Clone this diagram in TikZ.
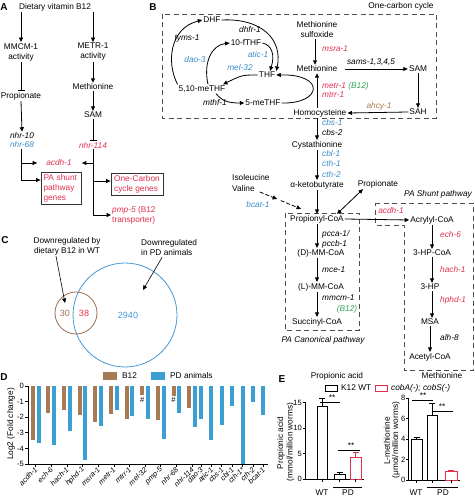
\documentclass[tikz,border=0pt]{standalone}
\usepackage{fontspec}
\setmainfont{Liberation Sans}
\usetikzlibrary{arrows.meta,calc}
\definecolor{gred}{RGB}{224,48,78}
\definecolor{gblue}{RGB}{58,140,200}
\definecolor{ggreen}{RGB}{50,165,85}
\definecolor{gbrown}{RGB}{170,120,72}
\definecolor{cB}{RGB}{166,122,84}
\definecolor{cP}{RGB}{58,160,212}
\definecolor{vbrown}{RGB}{160,110,80}
\definecolor{vblue}{RGB}{70,150,210}
\begin{document}
\begin{tikzpicture}[x=1pt,y=-1pt,
  t/.style={font=\fontsize{8.3}{10}\selectfont, inner sep=1pt, align=center},
  g/.style={font=\fontsize{8.3}{10}\selectfont\itshape, inner sep=1pt, align=center},
  sm/.style={font=\fontsize{7.6}{9}\selectfont, inner sep=1pt},
  gl/.style={font=\fontsize{7.3}{9}\selectfont\itshape, inner sep=0.5pt, rotate=45, anchor=east},
  panel/.style={font=\fontsize{10}{12}\selectfont\bfseries, inner sep=0pt},
  arr/.style={-{Triangle[length=4.5pt,width=4pt]}, line width=0.8pt},
  darr/.style={{Triangle[length=4.5pt,width=4pt]}-{Triangle[length=4.5pt,width=4pt]}, line width=0.8pt},
  inh/.style={-{Bar[width=7pt,line width=1pt]}, line width=0.8pt},
  dbox/.style={draw=black!70, line width=0.8pt, dash pattern=on 5pt off 3.5pt},
  gbox/.style={draw=black!80, line width=0.8pt, text=gred, align=left, font=\fontsize{8.3}{10}\selectfont, inner sep=2pt},
  ax/.style={line width=0.7pt}]
\useasboundingbox (0,0) rectangle (474,497);

% ================= Panel A =================
\node[panel] (labA) at (4,7) {A};
\node[t] (diet) at (55,7) {Dietary vitamin B12};
\node[t] (mmcm) at (21,52) {MMCM-1\\activity};
\node[t] (prop) at (21,96) {Propionate};
\node[g] (nhr10) at (22,136) {nhr-10};
\node[g,text=gblue] (nhr68) at (22,145) {nhr-68};
\node[t] (metr) at (93,52) {METR-1\\activity};
\node[t] (metA) at (93,87) {Methionine};
\node[t] (samA) at (93,115) {SAM};
\node[g,text=gred] (nhr114) at (93,145) {nhr-114};
\node[g,text=gred] (acdhA) at (59,163) {acdh-1};
\node[gbox, minimum width=40pt, minimum height=32pt, text width=35pt] (pabox) at (61,188) {PA shunt\\pathway\\genes};
\node[gbox, minimum width=52pt, minimum height=22pt] (ocbox) at (137,184) {One-Carbon\\cycle genes};
\node[t, anchor=west, align=left, text=gred] (pmp) at (111,215) {\textit{pmp-5} (B12\\transporter)};

\draw[arr] (diet.south -| mmcm.north) -- (mmcm.north);
\draw[arr] (diet.south -| metr.north) -- (metr.north);
\draw[inh] (mmcm.south) -- (prop.north);
\draw[arr] (prop.south) -- (nhr10.north);
\draw[arr] (metr.south) -- (metA.north);
\draw[arr] (metA.south) -- (samA.north);
\draw[inh] (samA.south) -- (nhr114.north);
\draw[arr, shorten >=8pt] ([xshift=-1pt]nhr68.south) |- (acdhA.west);
\draw[arr] ([xshift=-1pt]nhr68.south) |- ([yshift=8pt]pabox.west);
\draw[arr, shorten >=9pt] (nhr114.south) |- (acdhA.east);
\draw[arr] (nhr114.south) |- ([yshift=3pt]ocbox.west);
\draw[arr] (nhr114.south) |- (pmp.west);

% ================= Panel B =================
\node[panel] (labB) at (153,7) {B};
\node[t] (octitle) at (401,6) {One-carbon cycle};
\draw[dbox] (162,14) rectangle (436,118);
\node[t] (DHF) at (212,20) {DHF};
\node[g] (dhfr) at (250,30) {dhfr-1};
\node[t] (fTHF) at (246,43) {10-fTHF};
\node[g] (tyms) at (187,39) {tyms-1};
\node[g,text=gblue] (atic) at (258,55) {atic-1};
\node[g,text=gblue] (dao) at (195,60) {dao-3};
\node[g,text=gblue] (mel) at (240,68) {mel-32};
\node[t] (THF) at (267,75) {THF};
\node[t] (meTHF) at (202,89) {5,10-meTHF};
\node[g] (mthf) at (215,103) {mthf-1};
\node[t] (mTHF) at (263,103) {5-meTHF};
\node[t] (MetSulf) at (317,30) {Methionine\\sulfoxide};
\node[g,text=gred,anchor=west] (msra) at (321,49) {msra-1};
\node[t] (MetB) at (317,69) {Methionine};
\node[g] (sams) at (371,62) {sams-1,3,4,5};
\node[t] (SAMB) at (418,69) {SAM};
\node[t] (SAH) at (418,112) {SAH};
\node[g,text=gbrown] (ahcy) at (379,106) {ahcy-1};
\node[g,anchor=west] (metr1) at (321,86) {\textcolor{gred}{metr-1} \textcolor{ggreen}{(B12)}};
\node[g,text=gred,anchor=west] (mtrr) at (321,95) {mtrr-1};
\node[t] (Hcy) at (320,113) {Homocysteine};
\node[g,text=gblue,anchor=west] (cbs1) at (321,123) {cbs-1};
\node[g,anchor=west] (cbs2) at (321,133) {cbs-2};
\node[t] (Cyst) at (317,145) {Cystathionine};
\node[g,text=gblue,anchor=west] (cbl) at (321,154) {cbl-1};
\node[g,text=gblue,anchor=west] (cth1) at (321,164) {cth-1};
\node[g,text=gblue,anchor=west] (cth2) at (321,175) {cth-2};
\node[t] (aKB) at (317,185) {α-ketobutyrate};
\node[t] (PropB) at (378,184) {Propionate};
\node[t,anchor=west] (Ile) at (231,178) {Isoleucine};
\node[t,anchor=west] (Val) at (231,189) {Valine};
\node[g,text=gblue] (bcat) at (258,205) {bcat-1};
\node[t] (PropCoA) at (317,219) {Propionyl-CoA};
\node[g,anchor=west] (pcca) at (321,234) {pcca-1/};
\node[g,anchor=west] (pccb) at (321,244) {pccb-1};
\node[t] (DMM) at (321,253) {(D)-MM-CoA};
\node[g,anchor=west] (mce) at (321,270) {mce-1};
\node[t] (LMM) at (321,287) {(L)-MM-CoA};
\node[g,anchor=west] (mmcm1) at (321,298) {mmcm-1};
\node[g,text=ggreen] (b12g) at (347,309) {(B12)};
\node[t] (Succ) at (317,322) {Succinyl-CoA};
\draw[dbox] (285,213) rectangle (359,330);
\node[g] (canon) at (323,340) {PA Canonical pathway};
\draw[dbox] (375,203) -- (473,203) -- (473,370) -- (404,370) -- (404,225) -- (375,225) -- cycle;
\node[g,text=gred] (acdhB) at (391,211) {acdh-1};
\node[g] (shunt) at (438,194) {PA Shunt pathway};
\node[t] (Acr) at (432,220) {Acrylyl-CoA};
\node[g,text=gred,anchor=west] (ech) at (439,235) {ech-6};
\node[t] (HPCoA) at (432,253) {3-HP-CoA};
\node[g,text=gred,anchor=west] (hach) at (439,270) {hach-1};
\node[t] (HP) at (430,287) {3-HP};
\node[g,text=gred,anchor=west] (hphd) at (439,300) {hphd-1};
\node[t] (MSA) at (430,322) {MSA};
\node[g,anchor=west] (alh) at (439,338) {alh-8};
\node[t] (Acet) at (430,357) {Acetyl-CoA};

% cycle arrows
\draw[arr] (meTHF.north west) .. controls (166,62) and (170,28) .. (DHF.west);
\draw[arr] (DHF.east) .. controls (262,18) and (283,40) .. (THF.north east);
\draw[arr] (fTHF.east) .. controls (272,45) and (275,55) .. ([xshift=3pt]THF.north);
\draw[arr] ([xshift=6pt]meTHF.north) .. controls (203,62) and (212,45) .. (fTHF.west);
\draw[arr] (THF.west) .. controls (242,75) .. ([xshift=21pt]meTHF.north);
\draw[arr] ([xshift=14pt]meTHF.south) .. controls (222,101) and (228,103) .. (mTHF.west);
\draw[arr] (mTHF.east) .. controls (322,104) and (326,74) .. (THF.east);
% methionine cycle
\draw[arr] ([xshift=-2pt]MetSulf.south) -- ([xshift=-2pt]MetSulf.south |- MetB.north);
\draw[arr] ([xshift=6pt]MetB.east) -- (SAMB.west);
\draw[arr] (SAMB.south) -- (SAH.north);
\draw[arr] (SAH.west) -- (Hcy.east);
\draw[arr] (MetB.south |- Hcy.north) -- (MetB.south);
\draw[arr] (Hcy.south -| Cyst.north) -- (Cyst.north);
\draw[arr] (Cyst.south) -- (aKB.north);
\draw[arr] (aKB.south) -- (PropCoA.north);
\draw[darr] ([xshift=-15pt]PropB.south) -- ([xshift=20pt]PropCoA.north);
\coordinate (bc1) at ($(Val.east)+(4,3)$);
\coordinate (bcE) at ([xshift=-16pt,yshift=5pt]PropCoA.north);
\coordinate (bc2) at ($(bc1)!0.42!(bcE)$);
\draw[arr, dash pattern=on 4pt off 2pt] (bc1) -- (bc2);
\draw[arr, dash pattern=on 4pt off 2pt] ($(bc2)!0.15!(bcE)$) -- (bcE);
\draw[arr] (PropCoA.south) -- (DMM.north -| PropCoA.south);
\draw[arr] (DMM.south -| PropCoA.south) -- (LMM.north -| PropCoA.south);
\draw[arr] (LMM.south -| PropCoA.south) -- (Succ.north);
\draw[arr] (PropCoA.east) -- (Acr.west);
\draw[arr] (Acr.south) -- (HPCoA.north);
\draw[arr] (HPCoA.south) -- (HPCoA.south |- HP.north);
\draw[arr] (HPCoA.south |- HP.south) -- (HPCoA.south |- MSA.north);
\draw[arr] (MSA.south) -- (Acet.north);

% ================= Panel C =================
\node[panel] (labC) at (5,240) {C};
\node[t] (c1t) at (67,246) {Downregulated by\\dietary B12 in WT};
\node[t,anchor=west,align=left] (c2t) at (140,248) {Downregulated\\in PD animals};
\node[draw=vblue, line width=0.8pt, circle, minimum size=104pt, inner sep=0pt] (vPD) at (125,315) {};
\node[draw=vbrown, line width=0.8pt, circle, minimum size=42pt, inner sep=0pt] (vB) at (76,313) {};
\node[font=\fontsize{9}{10}\selectfont, text=vbrown] (n30) at (65,313) {30};
\node[font=\fontsize{9}{10}\selectfont, text=gred] (n38) at (84,313) {38};
\node[font=\fontsize{9}{10}\selectfont, text=vblue] (n2940) at (128,315) {2940};
\coordinate (vt1) at (65,303);
\coordinate (vt2) at (143,290);
\draw[arr, line width=0.6pt] ([xshift=-11pt]c1t.south) -- (vt1);
\draw[arr, line width=0.6pt] ([xshift=-7pt]c2t.south) -- (vt2);

% ================= Panel D =================
\node[panel] (labD) at (4,377) {D};
\fill[cB] (103,372) rectangle (117,380);
\node[t,anchor=west] (legB) at (121,376) {B12};
\fill[cP] (151,372) rectangle (165,380);
\node[t,anchor=west] (legP) at (169,376) {PD animals};
\node[t, rotate=90] (ylD) at (11,424) {Log2 (Fold change)};
\draw[ax] (28,386) -- (28,464) -- (268,464);
\foreach \v in {0,-1,-2,-3,-4,-5}{
  \draw[ax] (25,{386-15.6*\v}) -- (28,{386-15.6*\v});
  \node[sm,anchor=east] (yt\v) at (25,{386-15.6*\v}) {\v};
}
\foreach \i/\bv/\pv in {1/-3.45/-3.66,2/-1.7/-3.8,3/-1.53/-2.87,4/-1.85/-4.77,5/-2.32/-2.55,6/-1.77/-1.57,7/-2.1/-1.9,8/-0.57/-2.1,9/-2.17/-3.38,10/-0.62/-1.75,11/-1.38/-2.6}{
  \pgfmathsetmacro\xb{32.7+15.65*(\i-1)}
  \fill[cB] ({\xb-2},386) rectangle ({\xb+2},{386-15.6*\bv});
  \fill[cP] ({\xb+3.8},386) rectangle ({\xb+7.8},{386-15.6*\pv});
  \draw[ax] ({\xb+2.9},464) -- ({\xb+2.9},467);
}
\foreach \j/\pv in {12/-2.1,13/-3.43,14/-2.5,15/-1.28,16/-5,17/-1.0,18/-1.86}{
  \pgfmathsetmacro\xs{263.2-10.35*(18-\j)}
  \fill[cP] ({\xs-2},386) rectangle ({\xs+2},{386-15.6*\pv});
  \draw[ax] (\xs,464) -- (\xs,467);
}
\node[sm] (hash1) at (142.2,400) {\#};
\node[sm] (hash2) at (173.6,400) {\#};
\foreach \i/\nm in {1/acdh-1,2/ech-6,3/hach-1,4/hphd-1,5/msra-1,6/metr-1,7/mtrr-1,8/mel-32,9/pmp-5,10/nhr-68,11/nhr-114}{
  \pgfmathsetmacro\xb{32.7+15.65*(\i-1)+3.9}
  \node[gl] (gl\i) at (\xb,468) {\nm};
}
\foreach \j/\nm in {12/dao-3,13/atic-1,14/cbs-1,15/cbl-1,16/cth-1*,17/cth-2,18/bcat-1}{
  \pgfmathsetmacro\xs{263.2-10.35*(18-\j)+1}
  \node[gl] (gl\j) at (\xs,468) {\nm};
}

% ================= Panel E =================
\node[panel] (labE) at (282,379) {E};
\node[t] (tPA) at (337,376) {Propionic acid};
\node[t] (tMet) at (442,376) {Methionine};
\draw[line width=0.8pt] (325,385) rectangle (337,391);
\node[t,anchor=west] (legK) at (340,388) {K12 WT};
\draw[line width=0.8pt, draw=gred] (375,385) rectangle (387,391);
\node[g,anchor=west] (legC) at (390,388) {cobA(-); cobS(-)};
% left chart
\node[t, rotate=90] (ylE1a) at (281,443) {Propionic acid};
\node[t, rotate=90] (ylE1b) at (290.5,442) {(mmol/million worms)};
\draw[ax] (305,402) -- (305,479) -- (364,479);
\foreach \v in {0,5,10,15}{
  \draw[ax] (302.5,{479-5.1*\v}) -- (305,{479-5.1*\v});
  \node[sm,anchor=east,inner sep=0.5pt] (eL\v) at (302.5,{479-5.1*\v}) {\v};
}
\draw[line width=0.8pt] (317,479) rectangle (327,{479-5.1*14.2});
\draw[line width=0.8pt] (322,{479-5.1*14.2}) -- (322,{479-5.1*15.9}) (319,{479-5.1*15.9}) -- (325,{479-5.1*15.9});
\draw[line width=0.8pt] (334,479) rectangle (345,{479-5.1*1.0});
\draw[line width=0.8pt] (339.5,{479-5.1*1.0}) -- (339.5,{479-5.1*1.2}) (336.5,{479-5.1*1.2}) -- (342.5,{479-5.1*1.2});
\draw[line width=0.8pt, draw=gred] (350,479) rectangle (361,{479-5.1*4.3});
\draw[line width=0.8pt, draw=gred] (355.5,{479-5.1*4.3}) -- (355.5,{479-5.1*5.2}) (352.5,{479-5.1*5.2}) -- (358.5,{479-5.1*5.2});
\foreach \xx in {322,339.5,355.5}{\draw[ax] (\xx,479) -- (\xx,482);}
\draw[line width=0.7pt] (320,402) -- (340,402);
\node[t] (s1) at (332,398) {**};
\draw[line width=0.7pt] (338,450) -- (360,450);
\node[t] (s2) at (351,446) {**};
\draw[line width=0.7pt] (333,487) -- (362,487);
\node[t] (xWT1) at (322,493) {WT};
\node[t] (xPD1) at (348,493) {PD};
% right chart
\node[t, rotate=90] (ylE2a) at (387,441) {L-methionine};
\node[t, rotate=90] (ylE2b) at (396,440) {(μmol/million worms)};
\draw[ax] (408.5,398) -- (408.5,480) -- (460,480);
\foreach \v in {0,2,4,6,8}{
  \draw[ax] (406,{480-10.25*\v}) -- (408.5,{480-10.25*\v});
  \node[sm,anchor=east,inner sep=0.5pt] (eR\v) at (406,{480-10.25*\v}) {\v};
}
\draw[line width=0.8pt] (411,480) rectangle (422,{480-10.25*3.95});
\draw[line width=0.8pt] (416.5,{480-10.25*3.95}) -- (416.5,{480-10.25*4.2}) (413.5,{480-10.25*4.2}) -- (419.5,{480-10.25*4.2});
\draw[line width=0.8pt] (427,480) rectangle (437,{480-10.25*6.3});
\draw[line width=0.8pt] (432,{480-10.25*6.3}) -- (432,{480-10.25*7.5}) (429,{480-10.25*7.5}) -- (435,{480-10.25*7.5});
\draw[line width=0.8pt, draw=gred] (445,480) rectangle (457,{480-10.25*0.85});
\draw[line width=0.8pt, draw=gred] (451,{480-10.25*0.85}) -- (451,{480-10.25*0.98}) (448,{480-10.25*0.98}) -- (454,{480-10.25*0.98});
\foreach \xx in {416.5,432,451}{\draw[ax] (\xx,480) -- (\xx,483);}
\draw[line width=0.7pt] (412,400) -- (433,400);
\node[t] (s3) at (423,396) {**};
\draw[line width=0.7pt] (433,411) -- (453,411);
\node[t] (s4) at (442,407) {**};
\draw[line width=0.7pt] (427,487) -- (458,487);
\node[t] (xWT2) at (416,493) {WT};
\node[t] (xPD2) at (443,493) {PD};
\end{tikzpicture}
\end{document}
